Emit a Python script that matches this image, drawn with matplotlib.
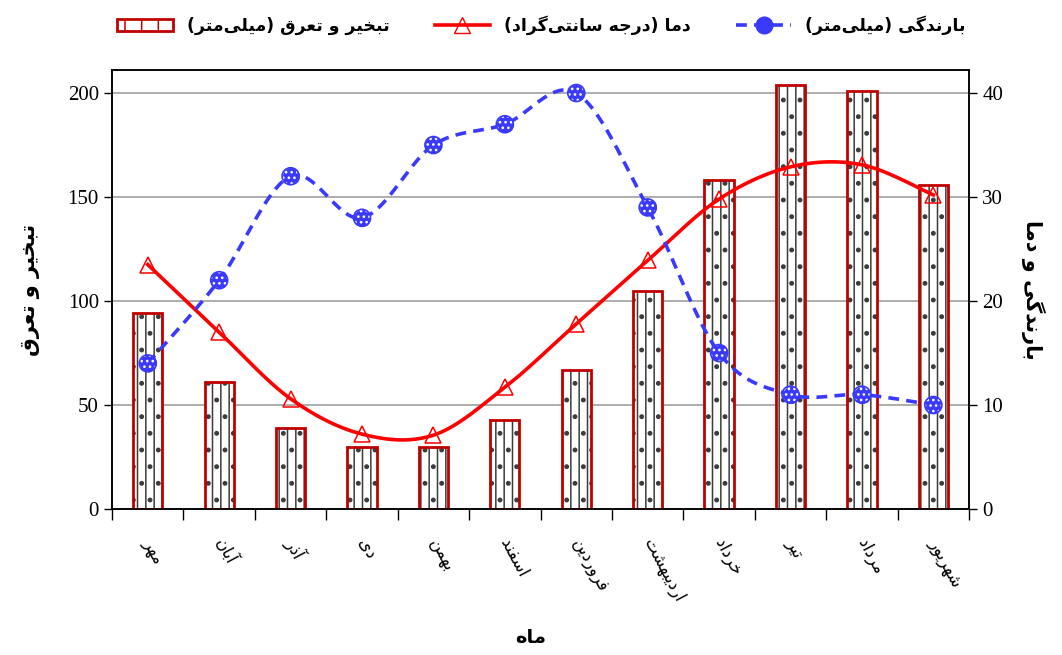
import numpy as np
import matplotlib
matplotlib.use("Agg")
import matplotlib.pyplot as plt
from matplotlib.patches import Patch
from matplotlib.lines import Line2D

# داده‌ها
months = ["مهر", "آبان", "آذر", "دی", "بهمن", "اسفند", "فروردین",
          "اردیبهشت", "خرداد", "تیر", "مرداد", "شهریور"]
evap = [94, 61, 39, 30, 30, 43, 67, 105, 158, 204, 201, 156]
temp = [23.5, 17.0, 10.6, 7.2, 7.1, 11.7, 17.8, 23.9, 29.8, 32.9, 33.1, 30.2]
rain = [14, 22, 32, 28, 35, 37, 40, 29, 15, 11, 11, 10]

lbl_evap = "تبخیر و تعرق (میلی\u200cمتر)"
lbl_temp = "دما (درجه سانتی\u200cگراد)"
lbl_rain = "بارندگی (میلی\u200cمتر)"
ylabel_left = "تبخیر و تعرق"
ylabel_right = "بارندگی و دما"
xlabel = "ماه"

# شکل‌های حروف (تنها، پایانی، آغازی، میانی)
FORMS = {
    'ا': ('\uFE8D', '\uFE8E', None, None),
    'آ': ('\uFE81', '\uFE82', None, None),
    'ب': ('\uFE8F', '\uFE90', '\uFE91', '\uFE92'),
    'ت': ('\uFE95', '\uFE96', '\uFE97', '\uFE98'),
    'ج': ('\uFE9D', '\uFE9E', '\uFE9F', '\uFEA0'),
    'خ': ('\uFEA5', '\uFEA6', '\uFEA7', '\uFEA8'),
    'د': ('\uFEA9', '\uFEAA', None, None),
    'ذ': ('\uFEAB', '\uFEAC', None, None),
    'ر': ('\uFEAD', '\uFEAE', None, None),
    'س': ('\uFEB1', '\uFEB2', '\uFEB3', '\uFEB4'),
    'ش': ('\uFEB5', '\uFEB6', '\uFEB7', '\uFEB8'),
    'ع': ('\uFEC9', '\uFECA', '\uFECB', '\uFECC'),
    'ف': ('\uFED1', '\uFED2', '\uFED3', '\uFED4'),
    'ق': ('\uFED5', '\uFED6', '\uFED7', '\uFED8'),
    'ل': ('\uFEDD', '\uFEDE', '\uFEDF', '\uFEE0'),
    'م': ('\uFEE1', '\uFEE2', '\uFEE3', '\uFEE4'),
    'ن': ('\uFEE5', '\uFEE6', '\uFEE7', '\uFEE8'),
    'ه': ('\uFEE9', '\uFEEA', '\uFEEB', '\uFEEC'),
    'و': ('\uFEED', '\uFEEE', None, None),
    'ی': ('\uFBFC', '\uFBFD', '\uFBFE', '\uFBFF'),
    'گ': ('\uFB92', '\uFB93', '\uFB94', '\uFB95'),
}


def fa(text):
    out = []
    for i, c in enumerate(text):
        if c not in FORMS:
            out.append(c)
            continue
        iso, fin, ini, med = FORMS[c]
        prev = text[i - 1] if i > 0 else None
        nxt = text[i + 1] if i + 1 < len(text) else None
        jp = prev in FORMS and FORMS[prev][2] is not None
        jn = ini is not None and nxt in FORMS
        if jp and jn:
            out.append(med)
        elif jp:
            out.append(fin)
        elif jn:
            out.append(ini)
        else:
            out.append(iso)
    s = ''.join(out)[::-1].replace('\u200c', '')
    return s.translate(str.maketrans('()', ')('))


def smooth(x, y, n=40):
    # منحنی هموار مثل اکسل
    pts = np.column_stack([x, y]).astype(float)
    ext = np.vstack([pts[0], pts, pts[-1]])
    t = np.linspace(0, 1, n)[:, None]
    segs = []
    for i in range(len(pts) - 1):
        p0, p1, p2, p3 = ext[i], ext[i + 1], ext[i + 2], ext[i + 3]
        c1 = p1 + (p2 - p0) / 6
        c2 = p2 - (p3 - p1) / 6
        segs.append((1 - t) ** 3 * p1 + 3 * (1 - t) ** 2 * t * c1
                    + 3 * (1 - t) * t ** 2 * c2 + t ** 3 * p2)
    seg = np.vstack(segs)
    return seg[:, 0], seg[:, 1]


fa_font = dict(family=['DejaVu Sans'])
num_font = 'Liberation Serif'
plt.rcParams['hatch.linewidth'] = 1.1

fig = plt.figure(figsize=(10.62, 6.55), dpi=100)
ax = fig.add_axes([0.1055, 0.2229, 0.807, 0.670])
ax2 = ax.twinx()

x = np.arange(len(months))
red_dark = '#c00000'
blue = '#3a3aff'

ax.bar(x, evap, width=0.41, color='white', edgecolor='#3c3c3c',
       hatch='||.', linewidth=0, zorder=2)
ax.bar(x, evap, width=0.41, fill=False, edgecolor=red_dark,
       linewidth=2, zorder=3)

ax.set_ylim(0, 211)
ax.set_xlim(-0.5, len(months) - 0.5)
ax.set_yticks([0, 50, 100, 150, 200])
ax.yaxis.grid(True, color='#a0a0a0', linewidth=1.2)
ax.set_axisbelow(True)

sx, sy = smooth(x, temp)
ax2.plot(sx, sy, color='red', linewidth=2.6, zorder=4)
ax2.plot(x, temp, linestyle='none', marker='^', markersize=12,
         markerfacecolor='none', markeredgecolor='red', markeredgewidth=1.1, zorder=5)
rx, ry = smooth(x, rain)
ax2.plot(rx, ry, color=blue, linewidth=2.6, linestyle=(0, (3, 2)), zorder=4)
ax2.scatter(x, rain, s=150, color=blue, linewidths=0, zorder=5)
ax2.scatter(x, rain, s=150, facecolor='none', edgecolor='white', hatch='...',
            linewidths=0, zorder=6)
ax2.scatter(x, rain, s=150, facecolor='none', edgecolor=blue, linewidths=1.2, zorder=7)
ax2.set_ylim(0, 42.2)
ax2.set_yticks([0, 10, 20, 30, 40])

# تیک‌ها
ax.set_xticks(x)
ax.set_xticks(np.arange(-0.5, len(months), 1), minor=True)
ax.tick_params(axis='x', which='major', length=0, pad=22)
ax.tick_params(axis='x', which='minor', length=8, width=1, direction='out')
ax.set_xticklabels([fa(m) for m in months], rotation=-62, ha='left',
                   rotation_mode='anchor', va='center', fontsize=12, **fa_font)
for a in (ax, ax2):
    a.tick_params(axis='y', length=6, width=1, direction='out', labelsize=15)
    for lab in a.get_yticklabels():
        lab.set_fontfamily(num_font)
    for s in a.spines.values():
        s.set_linewidth(1.1)

ax.set_ylabel(fa(ylabel_left), fontsize=15, fontweight='bold', labelpad=20, **fa_font)
ax2.set_ylabel(fa(ylabel_right), fontsize=15, fontweight='bold', rotation=-90,
               labelpad=30, **fa_font)
fig.text(0.5, 0.012, fa(xlabel), ha='center', va='bottom', fontsize=14,
         fontweight='bold', **fa_font)

handles = [
    Patch(facecolor='white', edgecolor=red_dark, hatch='|', linewidth=2),
    Line2D([], [], color='red', linewidth=2.6, marker='^', markersize=12,
           markerfacecolor='none', markeredgecolor='red'),
    Line2D([], [], color=blue, linewidth=2.6, linestyle=(0, (3, 2)), marker='o',
           markersize=12, markerfacecolor=blue),
]
labels = [fa(lbl_evap), fa(lbl_temp), fa(lbl_rain)]
fig.legend(handles, labels, loc='upper center', bbox_to_anchor=(0.51, 1.0),
           ncol=3, frameon=False, handlelength=3.2, columnspacing=2.6,
           prop=dict(family='DejaVu Sans', weight='bold', size=12.5))

fig.savefig('out.png', dpi=100)
